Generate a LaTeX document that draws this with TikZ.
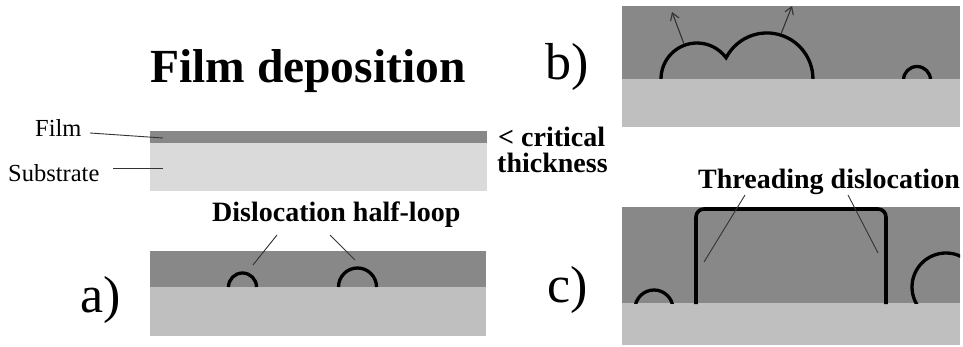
\documentclass[tikz,border=0pt]{standalone}
\usepackage{fontspec}
\setmainfont{Liberation Serif}
\usetikzlibrary{arrows.meta}
\definecolor{filmgray}{HTML}{888888}
\definecolor{subpale}{HTML}{DADADA}
\definecolor{subgray}{HTML}{BFBFBF}
\definecolor{leadgray}{HTML}{333333}
\begin{document}
\begin{tikzpicture}[x=1pt,y=-1pt,
  film/.style={fill=filmgray,draw=none},
  subst/.style={fill=subgray,draw=none},
  loopline/.style={draw=black,line width=3.3pt},
  leader/.style={draw=leadgray,line width=0.9pt},
  growth/.style={draw=leadgray,line width=1.1pt,-{Straight Barb[length=7pt,width=9pt]}},
  txt/.style={inner sep=0pt,anchor=base west,font=\fontsize{24.5}{24.5}\selectfont},
  boldtxt/.style={inner sep=0pt,anchor=base west,font=\bfseries\fontsize{28}{28}\selectfont},
  panel/.style={inner sep=0pt,anchor=base west,font=\fontsize{52}{52}\selectfont}]
\useasboundingbox (0,0) rectangle (963,347);

% ---- deposition below the critical thickness ----
\node[boldtxt,font=\bfseries\fontsize{47.5}{47.5}\selectfont] (title) at (150,83) {Film deposition};
\fill[subpale] (150,143) rectangle (487,191);
\fill[film] (150,131) rectangle (487,143);
\node[txt] (filmlbl) at (35,137) {Film};
\node[txt] (sublbl) at (8,182) {Substrate};
\coordinate (filmtip) at (163,138);
\coordinate (filmtail) at (90,133);
\coordinate (subtip) at (163,168);
\coordinate (subtail) at (113,168);
\draw[leader] (filmtail) -- (filmtip);
\draw[leader] (subtail) -- (subtip);
\node[boldtxt] (crit1) at (498,147) {< critical};
\node[boldtxt] (crit2) at (497,173) {thickness};

% ---- a) half-loops nucleate at the surface ----
\fill[film] (150,251) rectangle (486,287);
\fill[subst] (150,287) rectangle (486,336);
\draw[loopline] (228.5,287) arc[start angle=180,end angle=360,radius=14];
\draw[loopline] (338.5,287) arc[start angle=180,end angle=360,radius=19];
\node[boldtxt] (hl) at (212,222) {Dislocation half-loop};
\coordinate (hlA) at (277,235);
\coordinate (hlAend) at (253,265);
\coordinate (hlB) at (330,235);
\coordinate (hlBend) at (355,260);
\draw[leader] (hlA) -- (hlAend);
\draw[leader] (hlB) -- (hlBend);
\node[panel] (pa) at (80,312) {a)};

% ---- b) loops expand and merge ----
\fill[film] (622,6) rectangle (960,79);
\fill[subst] (622,79) rectangle (960,127);
\begin{scope}
  \clip (622,6) rectangle (960,79);
  \draw[loopline] (661,79) arc[start angle=180,end angle=323.9,radius=36]
                  arc[start angle=207.4,end angle=360,radius=46];
  \draw[loopline] (903.5,80) arc[start angle=180,end angle=360,radius=13.5];
\end{scope}
\coordinate (gA) at (684,44);
\coordinate (gAend) at (672,12);
\coordinate (gB) at (781,34);
\coordinate (gBend) at (792,6);
\draw[growth] (gA) -- (gAend);
\draw[growth] (gB) -- (gBend);
\node[panel] (pb) at (545,80) {b)};

% ---- c) threading segments reach the surface ----
\fill[film] (622,207) rectangle (960,303);
\fill[subst] (622,303) rectangle (960,345);
\begin{scope}
  \clip (622,207) rectangle (960,303);
  \draw[loopline] (654,309) circle[radius=19];
  \draw[loopline] (946,287) circle[radius=34];
\end{scope}
\draw[loopline,line width=3.6pt,rounded corners=8pt]
  (696,304) -- (696,209) -- (886,209) -- (886,304);
\node[boldtxt] (td) at (698,189) {Threading dislocation};
\coordinate (tdA) at (745,195);
\coordinate (tdAend) at (704,262);
\coordinate (tdB) at (848,195);
\coordinate (tdBend) at (878,253);
\draw[leader] (tdA) -- (tdAend);
\draw[leader] (tdB) -- (tdBend);
\node[panel] (pc) at (547,302) {c)};
\end{tikzpicture}
\end{document}
